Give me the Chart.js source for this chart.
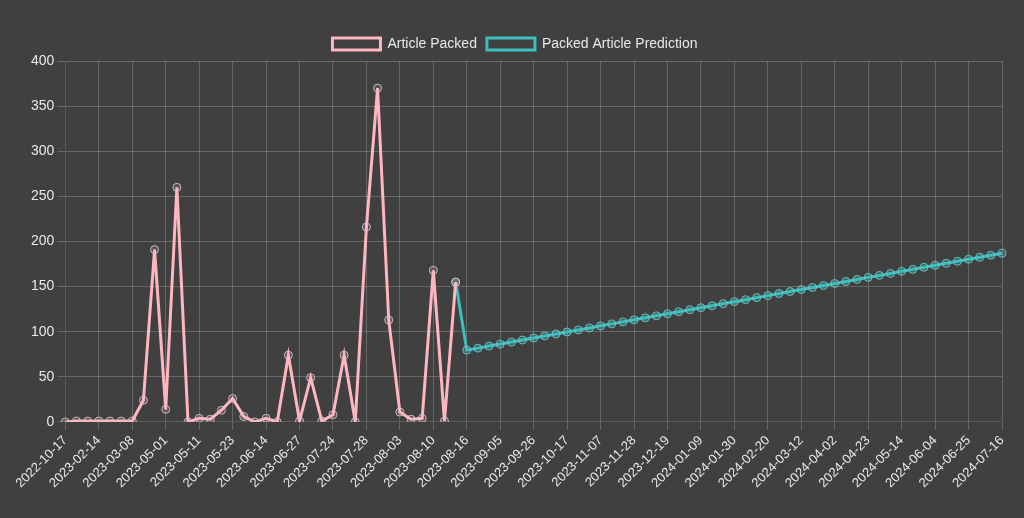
<!DOCTYPE html>
<html>
<head>
<meta charset="utf-8">
<script src="https://cdn.jsdelivr.net/npm/chart.js@4.4.1/dist/chart.umd.min.js"></script>
<style>
  html, body { margin: 0; padding: 0; background: #404040; }
  #wrap { width: 1024px; height: 518px; }
</style>
</head>
<body>
<div id="wrap"><canvas id="myChart"></canvas></div>
<script>
const fechas = [
  "2022-10-17", "2022-11-21", "2023-01-10", "2023-02-14", "2023-02-21", "2023-03-01",
  "2023-03-08", "2023-03-22", "2023-04-12", "2023-05-01", "2023-05-03", "2023-05-08",
  "2023-05-11", "2023-05-15", "2023-05-18", "2023-05-23", "2023-05-30", "2023-06-07",
  "2023-06-14", "2023-06-20", "2023-06-23", "2023-06-27", "2023-07-05", "2023-07-13",
  "2023-07-24", "2023-07-25", "2023-07-26", "2023-07-28", "2023-07-31", "2023-08-01",
  "2023-08-03", "2023-08-07", "2023-08-08", "2023-08-10", "2023-08-11", "2023-08-14",
  "2023-08-16", "2023-08-22", "2023-08-29", "2023-09-05", "2023-09-12", "2023-09-19",
  "2023-09-26", "2023-10-03", "2023-10-10", "2023-10-17", "2023-10-24", "2023-10-31",
  "2023-11-07", "2023-11-14", "2023-11-21", "2023-11-28", "2023-12-05", "2023-12-12",
  "2023-12-19", "2023-12-26", "2024-01-02", "2024-01-09", "2024-01-16", "2024-01-23",
  "2024-01-30", "2024-02-06", "2024-02-13", "2024-02-20", "2024-02-27", "2024-03-05",
  "2024-03-12", "2024-03-19", "2024-03-26", "2024-04-02", "2024-04-09", "2024-04-16",
  "2024-04-23", "2024-04-30", "2024-05-07", "2024-05-14", "2024-05-21", "2024-05-28",
  "2024-06-04", "2024-06-11", "2024-06-18", "2024-06-25", "2024-07-02", "2024-07-09",
  "2024-07-16"
];

// valores reales
const packed = [
  0, 1, 1, 1, 1, 1, 1, 24, 191, 14, 260, 0,
  4, 3, 13, 26, 6, 0, 4, 0, 74, 1, 49, 1,
  8, 74, 0, 216, 370, 113, 11, 3, 4, 168, 1, 155
];

// prediccion (empieza en el ultimo valor real)
const prediction = [
  155,
  79.6, 81.8, 84.1, 86.3, 88.5, 90.8, 93.0, 95.3, 97.5, 99.7,
  102.0, 104.2, 106.5, 108.7, 110.9, 113.2, 115.4, 117.6, 119.9, 122.1,
  124.4, 126.6, 128.8, 131.1, 133.3, 135.5, 137.8, 140.0, 142.3, 144.5,
  146.7, 149.0, 151.2, 153.4, 155.7, 157.9, 160.2, 162.4, 164.6, 166.9,
  169.1, 171.4, 173.6, 175.8, 178.1, 180.3, 182.5, 184.8, 187.0
];

const yTicks = [0, 50, 100, 150, 200, 250, 300, 350, 400];

const predOffset = packed.length - 1;
const predData = fechas.map((f, i) => (i < predOffset ? null : prediction[i - predOffset]));

const grafica = document.getElementById("myChart");
const gridColor = "rgba(255,255,255,0.2)";
const textColor = "#e8e8e8";

Chart.defaults.font.family = "'Liberation Sans', Arial, sans-serif";
Chart.defaults.font.size = 14;
Chart.defaults.color = textColor;

const datasets = [
  {
    label: "Article Packed",
    data: packed,
    borderColor: "rgb(255, 182, 193)",
    backgroundColor: "rgba(64, 64, 64, 1)",
    borderWidth: 3,
    pointRadius: 4,
    pointBorderWidth: 1,
    pointBorderColor: "rgba(210, 200, 200, 0.9)",
    pointBackgroundColor: "rgba(255, 182, 193, 0.15)",
    tension: 0,
  },
  {
    label: "Packed Article Prediction",
    data: predData,
    borderColor: "rgb(64, 190, 190)",
    backgroundColor: "rgba(64, 64, 64, 1)",
    borderWidth: 3,
    pointRadius: 4,
    pointBorderWidth: 1,
    pointBorderColor: "rgba(110, 200, 200, 0.9)",
    pointBackgroundColor: "rgba(64, 190, 190, 0.3)",
    tension: 0,
  },
];

const config = {
  type: "line",
  data: { labels: fechas, datasets },
  options: {
    responsive: true,
    maintainAspectRatio: false,
    animation: false,
    layout: { padding: { left: 28, right: 22, top: 27, bottom: 24 } },
    plugins: {
      legend: {
        labels: { boxWidth: 48, boxHeight: 12, color: textColor, font: { size: 14 } },
      },
      tooltip: { enabled: false },
    },
    scales: {
      x: {
        grid: { color: gridColor },
        ticks: {
          color: textColor,
          maxRotation: 45,
          minRotation: 45,
          autoSkip: true,
          maxTicksLimit: 29,
          font: { size: 13 },
        },
      },
      y: {
        min: 0,
        max: 400,
        grid: { color: gridColor },
        afterBuildTicks: (axis) => {
          axis.ticks = yTicks.map((v) => ({ value: v }));
        },
        ticks: { color: textColor, font: { size: 14 } },
      },
    },
  },
};

new Chart(grafica, config);
</script>
</body>
</html>
